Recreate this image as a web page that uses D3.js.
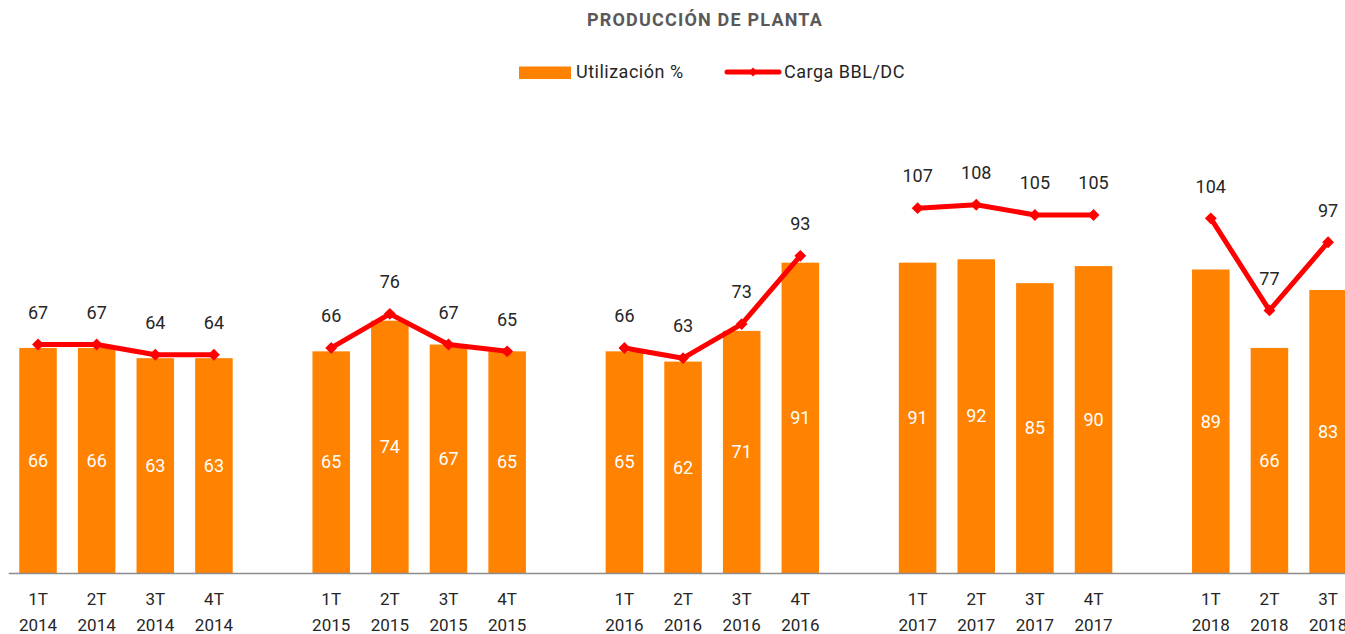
<!DOCTYPE html>
<html>
<head>
<meta charset="utf-8">
<script src="https://cdn.jsdelivr.net/npm/d3@7"></script>
<style>
	body { margin: 0; background: #fff; }
	svg { display: block; font-family: Roboto, 'Noto Sans', sans-serif; }
</style>
</head>
<body>
<div id="chart"></div>
<script>
// gaps between years are empty slots (keys starting with '_')
let periods = ['1T 2014', '2T 2014', '3T 2014', '4T 2014', '_a',
	'1T 2015', '2T 2015', '3T 2015', '4T 2015', '_b',
	'1T 2016', '2T 2016', '3T 2016', '4T 2016', '_c',
	'1T 2017', '2T 2017', '3T 2017', '4T 2017', '_d',
	'1T 2018', '2T 2018', '3T 2018'];
let utilizacion = [66, 66, 63, 63, null,
	65, 74, 67, 65, null,
	65, 62, 71, 91, null,
	91, 92, 85, 90, null,
	89, 66, 83];
let carga = [67, 67, 64, 64, null,
	66, 76, 67, 65, null,
	66, 63, 73, 93, null,
	107, 108, 105, 105, null,
	104, 77, 97];

let WIDTH = 1345;
let HEIGHT = 634;
let BASE = 573;
let ORANGE = '#ff8200';
let RED = '#ff0000';

let svg = d3.select('#chart').append('svg')
	.attr('width', WIDTH)
	.attr('height', HEIGHT);

let x = d3.scaleBand()
	.domain(periods)
	.range([8.7, 1357.4])
	.paddingInner(0.36)
	.paddingOuter(0.18);

let y = d3.scaleLinear()
	.domain([0, 120])
	.range([BASE, BASE - 120 * 3.41]);

let rows = periods.map((p, i) => ({p: p, u: utilizacion[i], c: carga[i]}));
let real = rows.filter(d => !d.p.startsWith('_'));

// title
svg.append('text')
	.attr('x', 705)
	.attr('y', 26)
	.attr('text-anchor', 'middle')
	.attr('fill', '#595959')
	.attr('font-size', 18)
	.attr('font-weight', 'bold')
	.attr('letter-spacing', 1.2)
	.text('PRODUCCIÓN DE PLANTA');

// legend
let legend = svg.append('g')
	.attr('font-size', 18)
	.attr('letter-spacing', 0.5)
	.attr('fill', '#262626');
legend.append('rect')
	.attr('x', 519).attr('y', 66.5)
	.attr('width', 52).attr('height', 12.5)
	.attr('fill', ORANGE);
legend.append('text').attr('x', 576).attr('y', 78).text('Utilización %');
legend.append('line')
	.attr('x1', 727).attr('x2', 779)
	.attr('y1', 72).attr('y2', 72)
	.attr('stroke', RED).attr('stroke-width', 5)
	.attr('stroke-linecap', 'round');
legend.append('path')
	.attr('d', d3.symbol(d3.symbolDiamond2, 50)())
	.attr('transform', 'translate(753,72)')
	.attr('fill', RED);
legend.append('text').attr('x', 784).attr('y', 78).text('Carga BBL/DC');

// bars
svg.append('g').selectAll('rect')
	.data(real)
	.join('rect')
	.attr('x', d => x(d.p))
	.attr('y', d => y(d.u))
	.attr('width', x.bandwidth())
	.attr('height', d => BASE - y(d.u))
	.attr('fill', ORANGE);

svg.append('g')
	.attr('font-size', 18)
	.attr('fill', '#fff')
	.attr('text-anchor', 'middle')
	.selectAll('text')
	.data(real)
	.join('text')
	.attr('x', d => x(d.p) + x.bandwidth() / 2)
	.attr('y', d => (y(d.u) + BASE) / 2)
	.attr('dy', '0.35em')
	.text(d => d.u);

// axis line + labels
svg.append('line')
	.attr('x1', 8.7).attr('x2', WIDTH)
	.attr('y1', BASE + 0.5).attr('y2', BASE + 0.5)
	.attr('stroke', '#8c8c8c').attr('stroke-width', 1.5);

let ticks = svg.append('g')
	.attr('font-size', 17)
	.attr('fill', '#262626')
	.attr('text-anchor', 'middle')
	.selectAll('g')
	.data(real)
	.join('g')
	.attr('transform', d => `translate(${x(d.p) + x.bandwidth() / 2},0)`);
ticks.append('text').attr('y', 605).text(d => d.p.split(' ')[0]);
ticks.append('text').attr('y', 631).text(d => d.p.split(' ')[1]);

// carga line, broken between years
let line = d3.line()
	.defined(d => d.c != null)
	.x(d => x(d.p) + x.bandwidth() / 2)
	.y(d => y(d.c));

svg.append('path')
	.datum(rows)
	.attr('d', line)
	.attr('fill', 'none')
	.attr('stroke', RED)
	.attr('stroke-width', 5)
	.attr('stroke-linejoin', 'round');

svg.append('g').selectAll('path')
	.data(real)
	.join('path')
	.attr('d', d3.symbol(d3.symbolDiamond2, 90)())
	.attr('transform', d => `translate(${x(d.p) + x.bandwidth() / 2},${y(d.c)})`)
	.attr('fill', RED);

svg.append('g')
	.attr('font-size', 18)
	.attr('fill', '#262626')
	.attr('text-anchor', 'middle')
	.selectAll('text')
	.data(real)
	.join('text')
	.attr('x', d => x(d.p) + x.bandwidth() / 2)
	.attr('y', d => y(d.c) - 32)
	.attr('dy', '0.35em')
	.text(d => d.c);
</script>
</body>
</html>
